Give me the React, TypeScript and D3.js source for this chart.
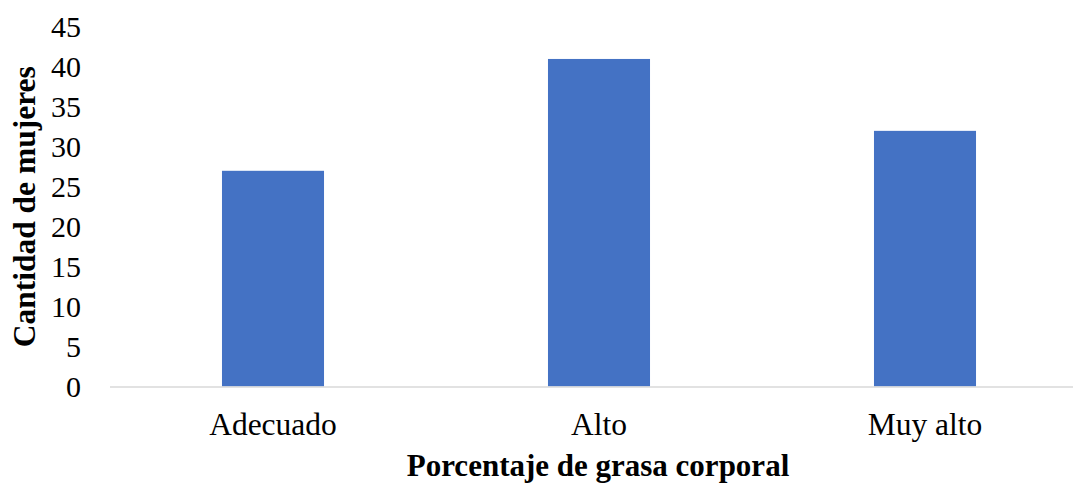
import { useEffect, useRef } from 'react';
import * as d3 from 'd3';

const categories = ['Adecuado', 'Alto', 'Muy alto'];
const values = [27, 41, 32];
const yTicks = [0, 5, 10, 15, 20, 25, 30, 35, 40, 45];

const xTitle = 'Porcentaje de grasa corporal';
const yTitle = 'Cantidad de mujeres';

export default function App() {
  const svgRef = useRef<SVGSVGElement>(null);

  useEffect(() => {
    if (!svgRef.current) return;
    const width = 1073;
    const height = 484;
    const font = '"Liberation Serif", "Times New Roman", serif';

    const svg = d3.select(svgRef.current);
    svg.selectAll('*').remove();

    const x = d3.scaleBand()
      .domain(categories)
      .range([110, 1088])
      .paddingInner(0.687)
      .paddingOuter(0.687 / 2);

    const y = d3.scaleLinear()
      .domain([0, 45])
      .range([386.5, 27]);

    // bars
    svg.selectAll('.bar')
      .data(values)
      .join('rect')
      .attr('class', 'bar')
      .attr('x', (d, i) => x(categories[i]) || 0)
      .attr('y', d => y(d))
      .attr('width', x.bandwidth())
      .attr('height', d => y(0) - y(d))
      .attr('fill', '#4472C4');

    // baseline
    svg.append('line')
      .attr('x1', 110)
      .attr('x2', width)
      .attr('y1', y(0) + 0.5)
      .attr('y2', y(0) + 0.5)
      .attr('stroke', '#D9D9D9')
      .attr('stroke-width', 1.5);

    // y tick labels
    svg.selectAll('.ytick')
      .data(yTicks)
      .join('text')
      .attr('class', 'ytick')
      .attr('x', 81)
      .attr('y', d => y(d) + 10)
      .attr('text-anchor', 'end')
      .style('font-family', font)
      .style('font-size', '30px')
      .style('fill', '#000')
      .text(d => d);

    // category labels
    svg.selectAll('.xtick')
      .data(categories)
      .join('text')
      .attr('class', 'xtick')
      .attr('x', d => (x(d) || 0) + x.bandwidth() / 2)
      .attr('y', 435)
      .attr('text-anchor', 'middle')
      .style('font-family', font)
      .style('font-size', '31.5px')
      .style('fill', '#000')
      .text(d => d);

    // axis titles
    svg.append('text')
      .attr('x', 598)
      .attr('y', 476)
      .attr('text-anchor', 'middle')
      .style('font-family', font)
      .style('font-size', '31px')
      .style('font-weight', 'bold')
      .style('fill', '#000')
      .text(xTitle);

    svg.append('text')
      .attr('transform', `translate(35,${(y(0) + y(45)) / 2}) rotate(-90)`)
      .attr('text-anchor', 'middle')
      .style('font-family', font)
      .style('font-size', '31.5px')
      .style('font-weight', 'bold')
      .style('fill', '#000')
      .text(yTitle);

    svg.attr('width', width).attr('height', height);
  }, []);

  return (
    <svg
      ref={svgRef}
      width={1073}
      height={484}
      style={{ position: 'absolute', top: 0, left: 0, background: '#fff' }}
    ></svg>
  );
}
